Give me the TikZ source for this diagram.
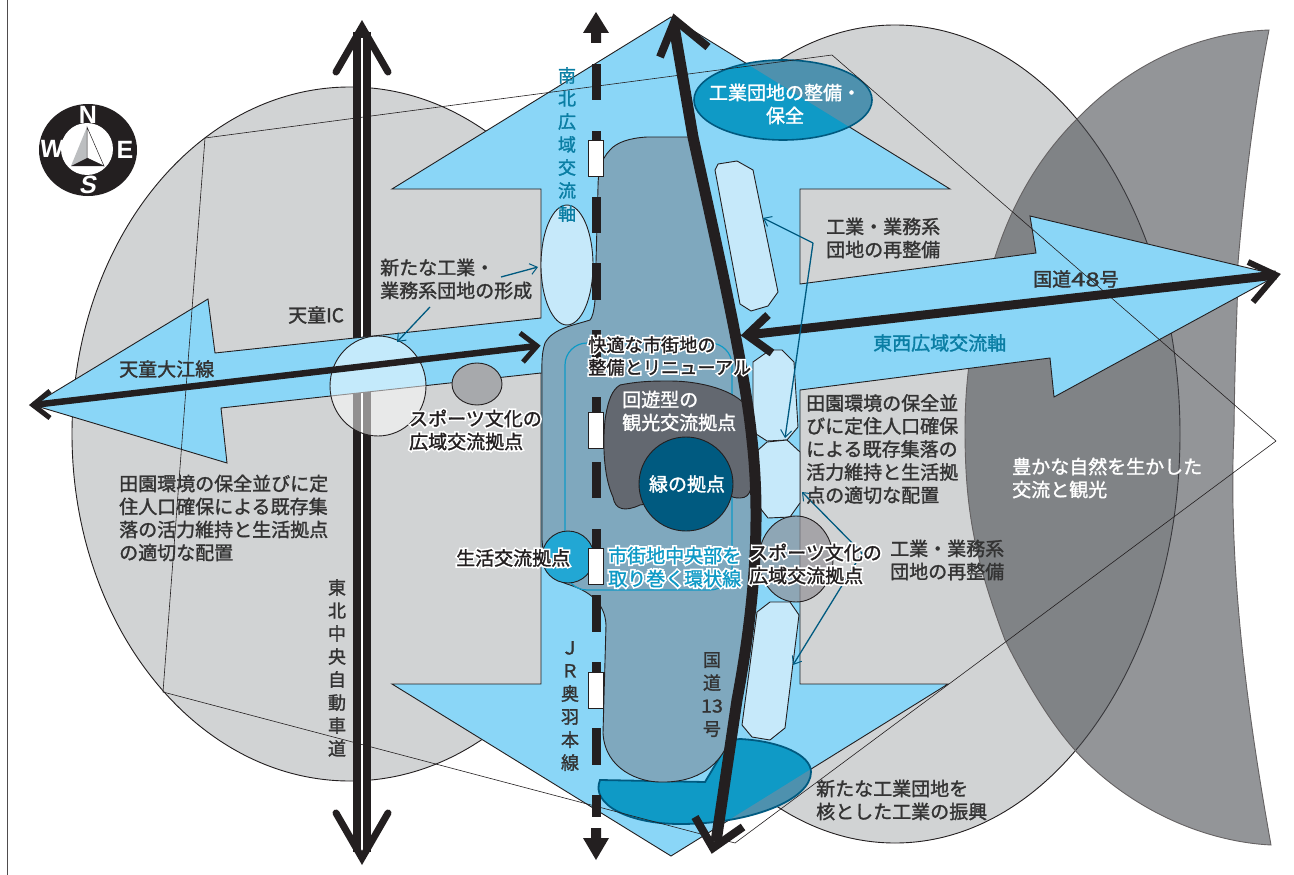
\documentclass[tikz,border=0pt]{standalone}
\usepackage{fontspec}
\usetikzlibrary{arrows.meta}
\setmainfont{Noto Sans CJK JP}[FakeBold=1.5]
\newfontfamily\halof[FakeBold=19]{Noto Sans CJK JP}
\newfontfamily\latinb{Liberation Sans}[BoldFont=Liberation Sans Bold]
\newcommand{\hl}[1]{\rlap{\halof\color{white}#1}#1}
\definecolor{inkc}{HTML}{231F20}
\definecolor{textc}{HTML}{333333}
\definecolor{grayc}{HTML}{D1D3D4}
\definecolor{bluec}{HTML}{8AD6F7}
\definecolor{steelc}{HTML}{7FA8BE}
\definecolor{teal}{HTML}{0F9AC6}
\definecolor{tealov}{HTML}{4E91AE}
\definecolor{navy}{HTML}{005A80}
\definecolor{paleb}{HTML}{C6E9FA}
\definecolor{axis}{HTML}{0A7EA4}
\begin{document}
\begin{tikzpicture}[x=1pt,y=-1pt,line join=miter,
  edge/.style={draw=inkc,line width=0.9pt},
  region/.style={edge,fill=grayc},
  oct/.style={edge,fill=paleb},
  thinl/.style={draw=inkc,line width=0.6pt},
  road/.style={draw=inkc,line cap=butt},
  callout/.style={draw=navy,line width=1.3pt,-{Straight Barb[length=7pt,width=11pt,line width=1pt]}},
  lab/.style={inner sep=0pt,align=left,anchor=west,text=textc,font=\fontsize{19}{23}\selectfont},
  wlab/.style={lab,text=white},
  blab/.style={lab,text=inkc},
  vlab/.style={inner sep=0pt,align=center,anchor=north,text=textc,font=\fontsize{18}{23}\selectfont},
  compassl/.style={inner sep=0pt,text=white,font=\fontsize{25}{25}\selectfont\latinb\bfseries},
  jrbox/.style={draw=inkc,line width=0.8pt,fill=white},
]
\useasboundingbox (0,0) rectangle (1294,875);
\fill[white] (0,0) rectangle (1294,875);
\draw[draw=inkc!80,line width=1pt] (7,0) -- (7,875);

% grey lobes
\path[region] (350,434) ellipse [x radius=278,y radius=347];
\path[region] (895,434) ellipse [x radius=285,y radius=409];
\path[draw=inkc!70,line width=0.9pt,fill={rgb,255:red,72;green,75;blue,80},fill opacity=.59]
  (1269,30) .. controls (1190,33) and (1125,70) .. (1079,117)
  .. controls (1035,160) and (1010,210) .. (995,257)
  .. controls (975,310) and (965,370) .. (965,430)
  .. controls (965,510) and (975,560) .. (1005,640)
  .. controls (1030,690) and (1060,740) .. (1095,770)
  .. controls (1145,815) and (1210,842) .. (1271,845)
  .. controls (1245,700) and (1228,560) .. (1234,430)
  .. controls (1235,340) and (1238,300) .. (1238,263)
  .. controls (1245,180) and (1255,100) .. (1269,30) -- cycle;

% highway
\coordinate (hwtop) at (362,27); \coordinate (hwbot) at (362,858);
\draw[road,line width=18pt] (362,32) -- (362,852);
\draw[draw=white,line width=1.8pt] (362,38) -- (362,856);
\draw[inkc,line width=7pt,line cap=round,line join=miter] (336,72) -- (hwtop) -- (388,72);
\draw[inkc,line width=7pt,line cap=round,line join=miter] (336,813) -- (hwbot) -- (388,813);

% blue cross
\path[edge,fill=bluec] (671,17) -- (950,189) -- (800,189) -- (800,284) -- (1036,253) -- (1030,216)
  -- (1278,275) -- (1054,397) -- (1050,358) -- (800,390) -- (800,684) -- (948,684) -- (671,856)
  -- (392,684) -- (541,684) -- (541,373) -- (221,408) -- (227,463) -- (33,405) -- (208,299)
  -- (215,353) -- (541,318) -- (541,189) -- (392,189) -- cycle;

% industrial ellipses
\path[draw=none,fill=teal] (783,100) ellipse [x radius=89,y radius=40];
\begin{scope}
  \clip (783,100) ellipse [x radius=89,y radius=40];
  \fill[tealov] (671,17) -- (950,189) -- (950,0) -- cycle;
\end{scope}
\path[draw=navy,line width=1.6pt] (783,100) ellipse [x radius=89,y radius=40];

\path[draw=none,fill=teal] (600,780) -- (705,782) -- (730,740) -- (740,739)
  .. controls (780,741) and (811,755) .. (811,772)
  .. controls (811,800) and (750,824) .. (680,824)
  .. controls (630,824) and (590,805) .. (600,780) -- cycle;
\begin{scope}
  \clip (600,780) -- (705,782) -- (730,740) -- (740,739)
  .. controls (780,741) and (811,755) .. (811,772)
  .. controls (811,800) and (750,824) .. (680,824)
  .. controls (630,824) and (590,805) .. (600,780) -- cycle;
  \fill[tealov] (671,856) -- (948,684) -- (948,856) -- cycle;
\end{scope}
\path[draw=navy,line width=1.8pt] (600,780) -- (705,782) -- (730,740) -- (740,739)
  .. controls (780,741) and (811,755) .. (811,772)
  .. controls (811,800) and (750,824) .. (680,824)
  .. controls (630,824) and (590,805) .. (600,780) -- cycle;

% town area
\path[edge,fill=steelc] (693,137) -- (647,137) .. controls (630,138) and (617,142) .. (610,150)
  .. controls (600,160) and (598,175) .. (598,187) -- (595,300) .. controls (594,312) and (592,318) .. (590,320)
  .. controls (575,325) and (553,328) .. (545,343) .. controls (541,355) and (542,367) .. (542,380)
  -- (542,540) .. controls (544,570) and (553,580) .. (570,585)
  .. controls (585,590) and (605,600) .. (606,625) -- (603,733)
  .. controls (605,770) and (640,782) .. (660,782) .. controls (700,783) and (720,763) .. (728,743)
  -- (737,700) .. controls (750,620) and (758,560) .. (755,500) .. controls (752,430) and (745,380) .. (737,320) -- cycle;

% inner loop
\draw[draw=teal,line width=1.2pt,rounded corners=22pt] (565,343) rectangle (732,590);

% light octagons
\path[oct] (715,170) -- (718,164) -- (737,161) -- (753,170) -- (778,292) -- (768,306) -- (751,311) -- (740,304) -- cycle;
\path[oct] (753,362) -- (770,350) -- (782,350) -- (794,362) -- (798,427) -- (787,440) -- (767,441) -- (753,432) -- cycle;
\path[oct] (758,450) -- (767,442) -- (787,440) -- (800,452) -- (800,503) -- (790,517) -- (768,518) -- (760,508) -- cycle;
\path[oct] (757,612) -- (770,602) -- (790,602) -- (799,615) -- (785,728) -- (770,740) -- (752,737) -- (742,725) -- cycle;
\path[oct] (567,265) ellipse [x radius=26,y radius=60];

% sports / activity circles
\path[edge,fill={rgb,255:red,145;green,142;blue,148},fill opacity=.66] (796,559) ellipse [x radius=37,y radius=43];
\path[edge,fill=white,fill opacity=.5] (378,386) ellipse [x radius=48,y radius=50];
\path[edge,fill={rgb,255:red,167;green,169;blue,172}] (477,384) ellipse [x radius=25,y radius=21];
\path[edge,fill={rgb,255:red,34;green,167;blue,212}] (568,557) circle [radius=26];

% JR line
\fill[inkc] (596,12) -- (609,33) -- (601,33) -- (601,43) -- (591,43) -- (591,33) -- (583,33) -- cycle;
\fill[inkc] (596,860) -- (609,838) -- (601,838) -- (601,828) -- (591,828) -- (591,838) -- (583,838) -- cycle;
\foreach \a/\b in {64/100,131/140,197/233,263/300,330/366,397/412,462/498,529/548,595/632,662/672,728/765,795/817}
  \fill[inkc] (591.5,\a) rectangle (600.5,\b);
\foreach \a in {140,412,548,672}
  \path[jrbox] (588.5,\a) rectangle (603,\a+36);

% tourist core
\path[edge,fill={rgb,255:red,99;green,104;blue,112}] (620,385) .. controls (640,381) and (655,381) .. (670,381)
  .. controls (700,381) and (735,390) .. (747,407) .. controls (750,425) and (750,455) .. (750,467)
  .. controls (753,485) and (752,498) .. (740,498) .. controls (730,498) and (730,495) .. (725,492)
  -- (640,505) .. controls (625,512) and (615,510) .. (613,497)
  .. controls (605,480) and (602,450) .. (605,420) .. controls (608,400) and (612,390) .. (620,385) -- cycle;
\path[edge,fill=navy] (686,484) circle [radius=47];

% road 13
\draw[road,line width=11pt] (674,26) -- (693,137) .. controls (720,260) and (745,370) .. (752,440)
  .. controls (762,530) and (752,620) .. (737,700) -- (716,842);
\coordinate (r13a) at (675,20); \coordinate (r13b) at (713,848);
\draw[inkc,line width=8pt] (660,57) -- (r13a) -- (708,47);
\draw[inkc,line width=8pt] (695,817) -- (r13b) -- (743,827);

% route 48
\coordinate (r48w) at (747,335); \coordinate (r48e) at (1276,275);
\draw[road,line width=9pt] (r48w) -- (r48e);
\draw[inkc,line width=8pt] (768,315) -- (r48w) -- (772,353);
\draw[inkc,line width=6pt] (1248,262) -- (r48e) -- (1253,302);

% Tendo-Oe line
\coordinate (tow) at (33,405); \coordinate (toe) at (537,346);
\draw[road,line width=6.5pt] (tow) -- (toe);
\draw[inkc,line width=5pt] (50,391) -- (tow) -- (50,418);
\draw[inkc,line width=5pt] (520,333) -- (toe) -- (523,362);

% thin outline
\draw[thinl] (205,138) -- (832,55) -- (1276,441) -- (735,843) -- (163,692) -- cycle;

% callouts
\coordinate (c1a) at (501,277); \coordinate (c1b) at (538,267);
\draw[callout] (c1a) -- (c1b);
\coordinate (c2a) at (430,307); \coordinate (c2b) at (397,342);
\draw[callout] (c2a) -- (c2b);
\coordinate (c3a) at (813,243); \coordinate (c3b) at (763,218); \coordinate (c3c) at (785,438);
\draw[callout] (c3a) -- (c3b);
\draw[callout] (c3a) -- (c3c);
\coordinate (c4a) at (862,553); \coordinate (c4b) at (802,492); \coordinate (c4c) at (793,665);
\draw[callout] (c4a) -- (c4b);
\draw[callout] (c4a) -- (c4c);

% compass
\path[fill=inkc] (88,150) ellipse [x radius=49,y radius=46];
\path[fill=white] (87,149) circle [radius=26];
\path[fill={rgb,255:red,188;green,190;blue,192}] (87,127) -- (71,166) -- (87,158) -- cycle;
\path[fill=white,draw=inkc,line width=.5pt] (87,127) -- (104,166) -- (87,158) -- cycle;
\path[fill=inkc] (71,166) -- (87,158) -- (104,166) -- cycle;
\node[compassl] (cN) at (88,115) {N};
\begin{scope}[shift={(89,185)},xslant=.2]
  \node[compassl,transform shape] (cS) at (0,0) {S};
\end{scope}
\begin{scope}[shift={(52,149)},xslant=.1]
  \node[compassl,transform shape] (cW) at (0,0) {W};
\end{scope}
\node[compassl] (cE) at (125,150) {E};

% labels
\node[wlab,align=center,anchor=center] (t1) at (785,104) {工業団地の整備・\\保全};
\node[lab] (t2) at (826,238) {工業・業務系\\団地の再整備};
\node[lab] (t3) at (380,279) {新たな工業・\\業務系団地の形成};
\node[lab] (t4) at (288,315) {天童IC};
\node[lab] (t5) at (119,369) {天童大江線};
\node[lab] (t6) at (1033,279) {国道\scalebox{1.35}[1]{48}号};
\node[lab,text=axis] (t7) at (873,343) {東西広域交流軸};
\node[lab] (t8) at (806,449) {田園環境の保全並\\びに定住人口確保\\による既存集落の\\活力維持と生活拠\\点の適切な配置};
\node[lab,text=inkc] (t9) at (409,430) {\hl{スポーツ文化の}\\\hl{広域交流拠点}};
\node[lab] (t10) at (119,518) {田園環境の保全並びに定\\住人口確保による既存集\\落の活力維持と生活拠点\\の適切な配置};
\node[wlab] (t11) at (1012,478) {豊かな自然を生かした\\交流と観光};
\node[blab] (t12) at (456,558) {\hl{生活交流拠点}};
\node[blab,font=\fontsize{18.2}{22.5}\selectfont] (t13) at (588,356) {\hl{快適な市街地の}\\\hl{整備とリニューアル}};
\node[wlab] (t14) at (622,411) {回遊型の\\観光交流拠点};
\node[wlab,anchor=center] (t15) at (687,484) {緑の拠点};
\node[lab,text=teal] (t16) at (608,567) {\hl{市街地中央部を}\\\hl{取り巻く環状線}};
\node[blab] (t17) at (749,564) {\hl{スポーツ文化の}\\\hl{広域交流拠点}};
\node[lab] (t18) at (890,560) {工業・業務系\\団地の再整備};
\node[lab] (t19) at (816,800) {新たな工業団地を\\核とした工業の振興};
\node[vlab,text=axis] (v1) at (567,67) {南\\北\\広\\域\\交\\流\\軸};
\node[vlab] (v2) at (337,579) {東\\北\\中\\央\\自\\動\\車\\道};
\node[vlab] (v3) at (570,641) {Ｊ\\Ｒ\\奥\\羽\\本\\線};
\node[vlab] (v4) at (712,652) {国\\道\\\scalebox{1.1}[1]{13}\\号};
\end{tikzpicture}
\end{document}
